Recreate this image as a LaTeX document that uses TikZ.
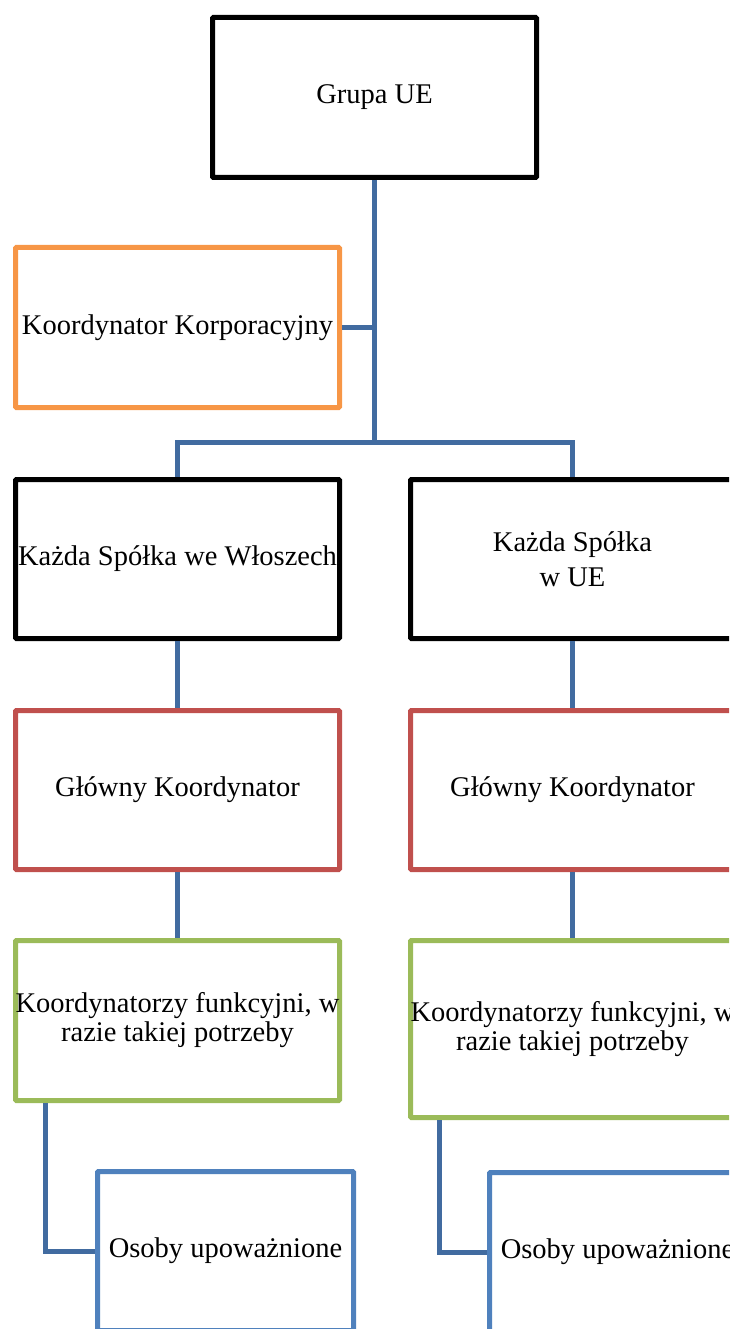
\documentclass[tikz,border=0pt]{standalone}
\usepackage{fontspec}
\setmainfont{Liberation Serif}
\usetikzlibrary{positioning}

\definecolor{linkblue}{HTML}{416BA0}
\definecolor{korange}{HTML}{F79646}
\definecolor{kred}{HTML}{C0504D}
\definecolor{kgreen}{HTML}{9BBB59}
\definecolor{kblue}{HTML}{4F81BD}

\begin{document}
\begin{tikzpicture}[x=1pt,y=-1pt,
		unit/.style={draw, line width=5pt, rounded corners=1pt, fill=white,
			minimum width=324pt, minimum height=160pt, align=center, inner xsep=0pt,
			font=\fontsize{28.5}{29}\selectfont},
		topunit/.style={unit, draw=black},
		corpunit/.style={unit, draw=korange},
		headunit/.style={unit, draw=kred},
		funcunit/.style={unit, draw=kgreen},
		personunit/.style={unit, draw=kblue, minimum width=256pt},
		link/.style={draw=linkblue, line width=5pt},
	]
	\clip (0,0) rectangle (729,1329);
	% top of the tree
	\node[topunit] (grupa) at (374.5,97.5) {Grupa UE};
	\node[corpunit] (korp) at (177.5,327.5) {Koordynator Korporacyjny};
	\coordinate (split) at (374.5,442);
	%
	\node[topunit, minimum height=159pt] (wlochy) at (177.5,559) {Każda Spółka we Włoszech};
	\node[topunit, minimum height=159pt] (ue) at (572.5,559) {Każda Spółka\\[6pt] w UE};
	%
	\node[headunit, minimum height=159pt] (glowny1) at (177.5,790) {Główny Koordynator};
	\node[headunit, minimum height=159pt] (glowny2) at (572.5,790) {Główny Koordynator};
	%
	\node[funcunit] (funk1) at (177.5,1020.5) {Koordynatorzy funkcyjni, w\\razie takiej potrzeby};
	\node[funcunit, minimum height=177pt] (funk2) at (572.5,1029) {Koordynatorzy funkcyjni, w\\razie takiej potrzeby};
	%
	\node[personunit, minimum height=159pt] (osoby1) at (225.5,1251) {Osoby upoważnione};
	\node[personunit, minimum height=159pt] (osoby2) at (617.5,1252) {Osoby upoważnione};
	%
	\draw[link] (grupa.south) -- (split);
	\draw[link] (korp.east) -- (korp.east -| split);
	\draw[link] (split) -| (wlochy.north);
	\draw[link] (split) -| (ue.north);
	\draw[link] (wlochy.south) -- (glowny1.north);
	\draw[link] (ue.south) -- (glowny2.north);
	\draw[link] (glowny1.south) -- (funk1.north);
	\draw[link] (glowny2.south) -- (funk2.north);
	\draw[link] ([xshift=32pt]funk1.south west) |- (osoby1.west);
	\draw[link] ([xshift=31pt]funk2.south west) |- (osoby2.west);
\end{tikzpicture}
\end{document}
